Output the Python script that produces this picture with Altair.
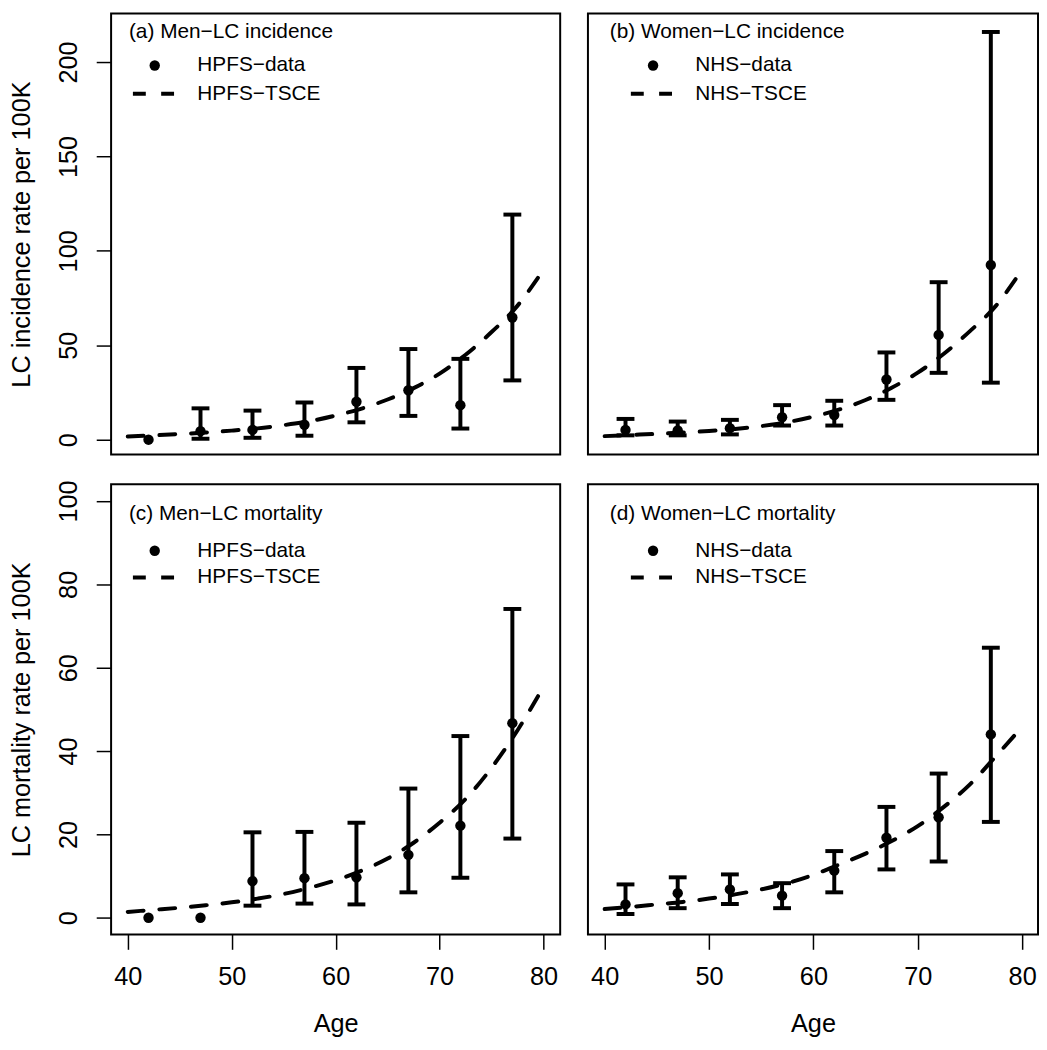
import altair as alt
import pandas as pd

FONT = "Liberation Sans"

ages = [42, 47, 52, 57, 62, 67, 72, 77]
fit_ages = [40, 42.5, 45, 47.5, 50, 52.5, 55, 57.5, 60, 62.5, 65, 67.5, 70, 72.5, 75, 77.5, 79.5]

# (a) Men - LC incidence (HPFS)
a_rate = [0.0, 4.5, 5.2, 7.9, 20.1, 26.2, 18.3, 64.7]
a_lo = [None, 0.5, 1.0, 2.1, 9.2, 12.6, 5.9, 31.4]
a_hi = [None, 16.6, 15.4, 19.7, 38.0, 48.0, 42.8, 119.2]
a_fit = [1.7, 2.3, 3.0, 3.8, 4.8, 6.0, 7.7, 9.8, 12.8, 16.5, 21.3, 27.3, 35.0, 45.0, 57.0, 71.0, 86.0]

# (b) Women - LC incidence (NHS)
b_rate = [5.2, 4.9, 6.1, 11.9, 13.1, 31.9, 55.5, 92.5]
b_lo = [2.3, 2.3, 2.8, 7.5, 7.5, 21.1, 35.4, 30.2]
b_hi = [11.0, 9.6, 10.5, 18.3, 20.6, 46.2, 83.4, 215.9]
b_fit = [1.9, 2.5, 3.1, 3.8, 4.6, 5.7, 7.2, 9.3, 12.2, 16.0, 21.0, 27.5, 35.5, 45.5, 57.5, 71.0, 86.0]

# (c) Men - LC mortality (HPFS)
c_rate = [0.0, 0.0, 8.8, 9.5, 9.7, 15.1, 22.1, 46.7]
c_lo = [None, None, 2.9, 3.4, 3.2, 6.1, 9.6, 19.0]
c_hi = [None, None, 20.5, 20.6, 22.8, 31.0, 43.6, 74.1]
c_fit = [1.4, 1.9, 2.4, 3.0, 3.7, 4.6, 5.7, 7.2, 9.0, 11.3, 14.2, 18.0, 22.8, 28.5, 36.0, 45.0, 53.3]

# (d) Women - LC mortality (NHS)
d_rate = [3.2, 5.9, 6.8, 5.3, 11.3, 19.2, 24.1, 44.0]
d_lo = [0.9, 2.3, 3.3, 2.3, 6.1, 11.6, 13.5, 23.0]
d_hi = [8.0, 9.7, 10.4, 8.3, 16.0, 26.6, 34.6, 64.8]
d_fit = [2.1, 2.6, 3.2, 3.8, 4.6, 5.6, 6.8, 8.3, 10.3, 12.8, 15.4, 18.4, 22.0, 26.6, 32.0, 38.8, 44.4]

panel_titles = ["(a) Men\u2212LC incidence", "(b) Women\u2212LC incidence",
                "(c) Men\u2212LC mortality", "(d) Women\u2212LC mortality"]
data_labels = ["HPFS\u2212data", "NHS\u2212data", "HPFS\u2212data", "NHS\u2212data"]
fit_labels = ["HPFS\u2212TSCE", "NHS\u2212TSCE", "HPFS\u2212TSCE", "NHS\u2212TSCE"]

x_ticks = [40, 50, 60, 70, 80]
y_ticks_top = [0, 50, 100, 150, 200]
y_ticks_bottom = [0, 20, 40, 60, 80, 100]
y_titles = ["LC incidence rate per 100K", "LC mortality rate per 100K"]
x_title = "Age"

AX_FS = 25.5
LEG_FS = 21


def panel(rate, lo, hi, fit, title, lab_d, lab_f, xdom, width, ydom, height,
          yticks, ytitle, show_x, show_y, lx, ly):
    # lx = (title_x, point_x, text_x, dash_x1, dash_x2); ly = (title_baseline, point_y, dash_y)
    df = pd.DataFrame({"age": ages, "rate": rate, "lo": lo, "hi": hi})
    fdf = pd.DataFrame({"age": fit_ages, "fit": fit})
    xs = alt.Scale(domain=xdom, nice=False, zero=False)
    ys = alt.Scale(domain=ydom, nice=False, zero=False)
    if show_x:
        xaxis = alt.Axis(values=x_ticks, title=x_title, labelBaseline="alphabetic",
                         labelPadding=36, titlePadding=21, labelFlush=False)
    else:
        xaxis = None
    if show_y:
        yaxis = alt.Axis(values=yticks, title=ytitle, labelAngle=270, labelAlign="center",
                         labelBaseline="alphabetic", labelPadding=20, titlePadding=22)
    else:
        yaxis = None

    def X(f):
        return alt.X(f"{f}:Q", scale=xs, axis=xaxis, title=x_title)

    def Y(f):
        return alt.Y(f"{f}:Q", scale=ys, axis=yaxis, title=ytitle)

    base = alt.Chart(df)
    bars = base.transform_filter("isValid(datum.lo)").mark_rule(
        color="black", strokeWidth=4).encode(x=X("age"), y=Y("lo"), y2="hi:Q")
    cap_lo = base.transform_filter("isValid(datum.lo)").mark_tick(
        color="black", orient="horizontal", size=18, thickness=4, opacity=1).encode(x=X("age"), y=Y("lo"))
    cap_hi = base.transform_filter("isValid(datum.hi)").mark_tick(
        color="black", orient="horizontal", size=18, thickness=4, opacity=1).encode(x=X("age"), y=Y("hi"))
    pts = base.mark_circle(color="black", size=110, opacity=1).encode(x=X("age"), y=Y("rate"))
    line = alt.Chart(fdf).mark_line(color="black", strokeWidth=4, strokeDash=[16, 16],
                                    strokeCap="round", interpolate="monotone").encode(
        x=X("age"), y=Y("fit"))

    tdf = pd.DataFrame({"t": [title]})
    ddf = pd.DataFrame({"t": [lab_d]})
    fldf = pd.DataFrame({"t": [lab_f]})
    t_title = alt.Chart(tdf).mark_text(align="left", baseline="alphabetic", fontSize=LEG_FS,
                                       font=FONT, color="black").encode(
        text="t:N", x=alt.value(lx[0]), y=alt.value(ly[0]))
    leg_pt = alt.Chart(ddf).mark_circle(color="black", size=110, opacity=1).encode(
        x=alt.value(lx[1]), y=alt.value(ly[1]))
    leg_dt = alt.Chart(ddf).mark_text(align="left", baseline="middle", fontSize=LEG_FS,
                                      font=FONT, color="black").encode(
        text="t:N", x=alt.value(lx[2]), y=alt.value(ly[1]))
    leg_ln = alt.Chart(fldf).mark_rule(color="black", strokeWidth=4, strokeDash=[13, 15.5],
                                       strokeCap="butt").encode(
        x=alt.value(lx[3]), x2=alt.value(lx[4]), y=alt.value(ly[2]))
    leg_ft = alt.Chart(fldf).mark_text(align="left", baseline="middle", fontSize=LEG_FS,
                                       font=FONT, color="black").encode(
        text="t:N", x=alt.value(lx[2]), y=alt.value(ly[2]))

    return alt.layer(line, bars, cap_lo, cap_hi, pts, t_title, leg_pt, leg_dt, leg_ln, leg_ft).properties(
        width=width, height=height)


LX = [38.4, 81.6]
RX = [38.4, 81.52]
TOPY = [-7.9, 225.7]
BOTY = [-4.0, 104.0]

LEG_X_L = (18, 44, 87, 22, 63.5)
LEG_X_R = (22, 65.7, 108.3, 43.3, 85)
LEG_Y_T = (25, 52.5, 81)
LEG_Y_B = (36, 67, 94)

pa = panel(a_rate, a_lo, a_hi, a_fit, panel_titles[0], data_labels[0], fit_labels[0],
           LX, 453, TOPY, 445, y_ticks_top, y_titles[0], False, True, LEG_X_L, LEG_Y_T)
pb = panel(b_rate, b_lo, b_hi, b_fit, panel_titles[1], data_labels[1], fit_labels[1],
           RX, 454, TOPY, 445, y_ticks_top, y_titles[0], False, False, LEG_X_R, LEG_Y_T)
pc = panel(c_rate, c_lo, c_hi, c_fit, panel_titles[2], data_labels[2], fit_labels[2],
           LX, 453, BOTY, 454, y_ticks_bottom, y_titles[1], True, True, LEG_X_L, LEG_Y_B)
pd_ = panel(d_rate, d_lo, d_hi, d_fit, panel_titles[3], data_labels[3], fit_labels[3],
            RX, 454, BOTY, 454, y_ticks_bottom, y_titles[1], True, False, LEG_X_R, LEG_Y_B)

chart = alt.concat(pa, pb, pc, pd_, columns=2, spacing={"row": 30, "column": 28},
                   bounds="flush", align="each").resolve_scale(
    x="independent", y="independent").properties(
    padding={"left": 0, "top": 0, "right": 0, "bottom": 0}, background="white"
).configure_view(stroke="black", strokeWidth=2).configure_axis(
    labelFont=FONT, labelFontSize=AX_FS, labelColor="black",
    titleFont=FONT, titleFontSize=AX_FS, titleColor="black", titleFontWeight="normal",
    tickColor="black", tickWidth=1.5, tickSize=15, domain=False, grid=False
)

chart.save("out.html", embed_options={"renderer": "svg", "actions": False})
